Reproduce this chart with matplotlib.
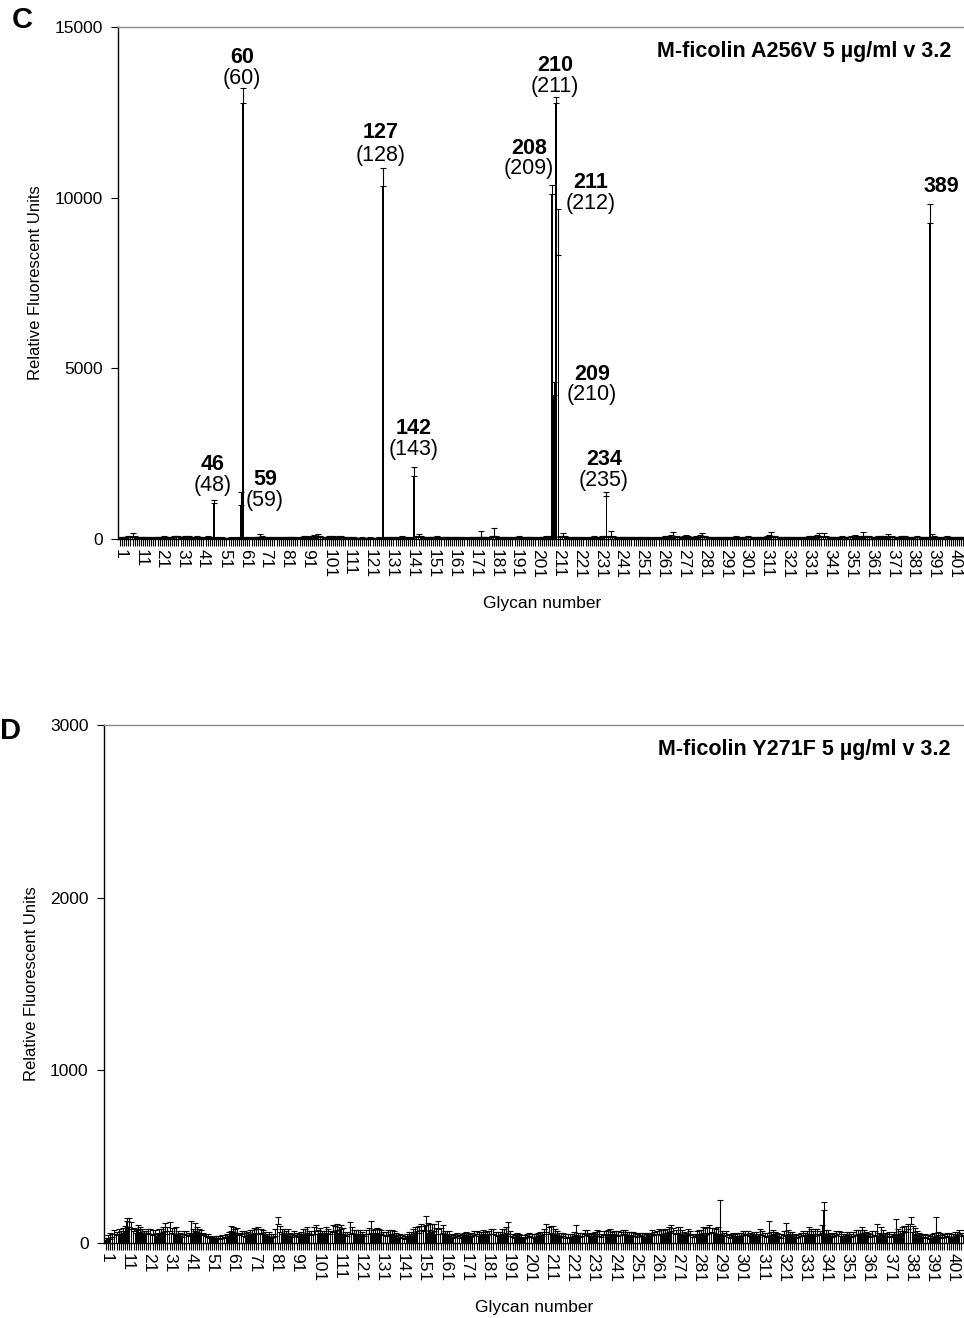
import numpy as np
import matplotlib
matplotlib.use("Agg")
import matplotlib.pyplot as plt

plt.rcParams['font.family'] = ['Liberation Sans', 'DejaVu Sans']

# ---------------- data ----------------
glycans = np.arange(1, 407)
tick_labels = [str(g) if (g - 1) % 10 == 0 else '' for g in glycans]

c_values = [
    40, 35, 30, 45, 50, 60, 70, 55, 40, 35,
    30, 45, 40, 35, 30, 25, 30, 40, 45, 35,
    40, 50, 45, 35, 30, 40, 55, 60, 50, 40,
    45, 60, 55, 50, 40, 35, 45, 50, 40, 35,
    35, 40, 50, 45, 40, 1050, 40, 30, 25, 30,
    25, 20, 25, 30, 25, 20, 30, 35, 1000, 12770,
    40, 35, 30, 25, 30, 35, 45, 70, 50, 40,
    35, 30, 25, 30, 35, 40, 30, 25, 30, 35,
    30, 40, 45, 35, 30, 25, 30, 40, 45, 50,
    40, 35, 45, 60, 55, 70, 50, 45, 40, 35,
    60, 55, 50, 45, 40, 55, 50, 45, 40, 35,
    30, 35, 30, 25, 20, 25, 30, 25, 20, 25,
    30, 25, 20, 25, 30, 25, 10340, 40, 35, 30,
    35, 40, 35, 30, 40, 45, 40, 35, 30, 25,
    40, 1850, 50, 70, 45, 40, 35, 40, 45, 35,
    40, 45, 50, 40, 35, 40, 45, 35, 30, 40,
    35, 30, 35, 40, 35, 30, 25, 30, 40, 35,
    30, 35, 40, 60, 45, 35, 30, 40, 50, 90,
    60, 45, 40, 35, 30, 35, 40, 35, 30, 35,
    40, 45, 40, 35, 30, 40, 45, 40, 35, 30,
    40, 35, 45, 40, 50, 45, 60, 10100, 4220, 12765,
    8320, 60, 80, 50, 40, 35, 40, 35, 30, 35,
    30, 35, 30, 25, 30, 35, 40, 45, 40, 35,
    40, 50, 55, 1250, 60, 90, 50, 45, 40, 35,
    40, 45, 40, 35, 40, 45, 40, 35, 30, 35,
    30, 35, 40, 35, 30, 25, 30, 35, 40, 35,
    40, 45, 50, 55, 60, 70, 55, 50, 45, 40,
    60, 70, 50, 45, 40, 45, 50, 45, 60, 80,
    50, 45, 40, 35, 30, 35, 40, 35, 30, 35,
    40, 45, 40, 35, 40, 50, 45, 40, 35, 40,
    45, 50, 45, 40, 35, 40, 45, 40, 35, 40,
    45, 60, 80, 55, 50, 45, 40, 35, 40, 45,
    40, 35, 30, 35, 40, 35, 30, 35, 40, 45,
    50, 55, 50, 45, 60, 75, 55, 70, 50, 45,
    40, 45, 40, 35, 40, 45, 50, 45, 40, 45,
    50, 55, 60, 50, 45, 55, 80, 60, 55, 50,
    45, 40, 45, 50, 55, 60, 50, 45, 70, 55,
    50, 45, 40, 45, 50, 55, 50, 45, 40, 35,
    40, 45, 50, 45, 40, 35, 40, 45, 9270, 60,
    50, 45, 40, 35, 40, 45, 50, 45, 40, 35,
    40, 45, 40, 35, 40, 45,
]
c_errors = [
    20, 15, 15, 20, 25, 40, 95, 30, 20, 15,
    15, 20, 25, 20, 15, 10, 15, 20, 25, 20,
    20, 30, 25, 15, 15, 20, 30, 40, 25, 20,
    25, 35, 30, 25, 20, 15, 20, 30, 20, 15,
    15, 20, 30, 25, 20, 90, 20, 15, 10, 15,
    10, 10, 10, 15, 10, 10, 15, 20, 380, 440,
    20, 15, 15, 10, 15, 20, 25, 75, 30, 20,
    15, 15, 10, 15, 20, 20, 15, 10, 15, 20,
    15, 20, 25, 15, 15, 10, 15, 20, 30, 40,
    25, 20, 30, 45, 30, 75, 30, 25, 20, 15,
    40, 35, 30, 25, 20, 40, 35, 25, 20, 15,
    15, 15, 15, 10, 10, 10, 15, 10, 10, 10,
    15, 10, 10, 10, 15, 10, 530, 20, 15, 15,
    20, 25, 20, 15, 20, 30, 25, 20, 15, 15,
    25, 270, 30, 75, 30, 20, 20, 25, 25, 20,
    20, 25, 30, 20, 20, 25, 25, 20, 15, 20,
    20, 15, 20, 25, 20, 15, 15, 15, 20, 20,
    15, 20, 25, 175, 25, 20, 15, 20, 30, 225,
    40, 25, 20, 15, 15, 20, 20, 20, 15, 20,
    25, 30, 25, 20, 15, 20, 25, 20, 20, 15,
    20, 20, 25, 25, 30, 25, 40, 270, 390, 175,
    1340, 40, 85, 30, 25, 20, 20, 20, 15, 20,
    15, 20, 15, 10, 15, 20, 25, 30, 25, 20,
    25, 30, 40, 130, 40, 145, 30, 25, 20, 20,
    20, 25, 20, 20, 25, 25, 20, 20, 15, 20,
    15, 20, 20, 20, 15, 10, 15, 20, 25, 20,
    25, 30, 35, 40, 45, 145, 35, 30, 25, 20,
    40, 60, 30, 25, 20, 25, 30, 25, 50, 90,
    30, 25, 20, 20, 15, 20, 20, 20, 15, 20,
    20, 25, 20, 20, 25, 30, 25, 20, 20, 25,
    25, 30, 25, 20, 20, 25, 25, 20, 20, 20,
    30, 50, 115, 35, 30, 25, 20, 20, 20, 25,
    20, 20, 15, 20, 20, 20, 15, 20, 20, 25,
    30, 40, 30, 25, 45, 90, 35, 95, 30, 25,
    20, 25, 20, 20, 25, 25, 30, 25, 20, 25,
    30, 35, 45, 30, 25, 40, 115, 40, 35, 30,
    25, 20, 25, 30, 35, 40, 30, 25, 75, 35,
    30, 25, 20, 25, 30, 35, 30, 25, 20, 20,
    20, 25, 30, 25, 20, 20, 20, 25, 550, 85,
    30, 25, 20, 20, 20, 25, 30, 25, 20, 20,
    20, 25, 20, 20, 20, 25,
]

d_values = [
    20, 30, 25, 35, 50, 45, 55, 50, 60, 70,
    125, 95, 80, 70, 60, 75, 65, 60, 55, 50,
    60, 55, 45, 50, 40, 55, 60, 65, 70, 55,
    70, 60, 55, 50, 45, 40, 35, 50, 45, 40,
    55, 60, 70, 65, 60, 55, 45, 40, 35, 30,
    25, 20, 25, 30, 25, 30, 35, 30, 40, 70,
    65, 60, 55, 45, 50, 40, 35, 45, 50, 55,
    60, 50, 55, 60, 50, 45, 40, 35, 30, 35,
    40, 110, 65, 55, 60, 45, 50, 40, 35, 45,
    40, 35, 45, 50, 55, 60, 50, 45, 55, 70,
    55, 60, 50, 45, 60, 55, 50, 65, 70, 75,
    60, 80, 55, 45, 40, 55, 60, 50, 45, 55,
    50, 45, 40, 50, 55, 60, 55, 50, 60, 55,
    50, 45, 40, 45, 50, 55, 45, 40, 30, 35,
    30, 25, 35, 40, 45, 55, 60, 70, 60, 75,
    70, 105, 60, 75, 65, 70, 55, 80, 50, 60,
    50, 45, 40, 35, 30, 35, 40, 30, 35, 40,
    45, 40, 35, 40, 45, 50, 40, 45, 50, 45,
    45, 50, 55, 50, 45, 40, 45, 50, 55, 60,
    50, 40, 35, 30, 40, 35, 30, 25, 30, 35,
    40, 35, 30, 35, 40, 45, 40, 50, 65, 55,
    60, 55, 50, 45, 40, 35, 40, 30, 35, 30,
    35, 40, 45, 40, 35, 40, 50, 45, 40, 35,
    40, 45, 50, 40, 35, 45, 50, 45, 55, 45,
    50, 45, 40, 45, 50, 55, 45, 40, 45, 40,
    40, 35, 45, 40, 35, 30, 45, 40, 50, 45,
    50, 55, 45, 50, 60, 55, 65, 70, 60, 55,
    60, 55, 50, 45, 40, 50, 45, 35, 40, 45,
    55, 50, 60, 45, 55, 60, 65, 60, 50, 55,
    55, 45, 40, 45, 35, 30, 40, 35, 40, 35,
    40, 45, 50, 45, 40, 35, 45, 40, 35, 50,
    45, 40, 35, 40, 45, 50, 45, 40, 35, 30,
    45, 40, 50, 45, 40, 35, 30, 35, 40, 45,
    40, 45, 55, 50, 45, 40, 50, 45, 60, 190,
    50, 45, 40, 35, 40, 45, 50, 40, 35, 40,
    45, 40, 35, 40, 45, 55, 50, 60, 50, 45,
    40, 35, 40, 45, 40, 35, 50, 45, 40, 35,
    40, 35, 45, 55, 50, 45, 60, 70, 65, 80,
    110, 65, 55, 45, 40, 35, 30, 35, 30, 25,
    30, 35, 40, 45, 35, 30, 35, 40, 35, 30,
    35, 40, 45, 50, 40, 45,
]
d_errors = [
    10, 15, 35, 20, 25, 20, 25, 20, 25, 30,
    20, 50, 40, 15, 20, 30, 25, 20, 15, 20,
    20, 25, 30, 25, 20, 25, 20, 30, 45, 35,
    50, 25, 30, 45, 25, 20, 15, 20, 25, 20,
    75, 20, 45, 25, 20, 20, 15, 10, 15, 10,
    10, 10, 15, 10, 15, 15, 10, 20, 25, 30,
    25, 20, 30, 15, 20, 30, 25, 20, 25, 20,
    25, 30, 40, 20, 25, 20, 15, 30, 25, 20,
    40, 40, 35, 25, 20, 25, 30, 20, 20, 25,
    20, 15, 20, 30, 25, 30, 20, 25, 40, 35,
    20, 25, 20, 25, 30, 25, 20, 40, 30, 35,
    35, 25, 30, 20, 25, 65, 30, 25, 30, 20,
    25, 20, 15, 25, 30, 65, 20, 30, 25, 25,
    25, 20, 25, 30, 25, 20, 25, 20, 15, 20,
    15, 15, 20, 25, 20, 25, 30, 20, 40, 35,
    30, 50, 55, 35, 45, 40, 30, 50, 35, 45,
    20, 25, 30, 20, 15, 15, 20, 15, 20, 20,
    20, 20, 15, 20, 25, 20, 25, 20, 25, 20,
    25, 20, 25, 30, 20, 25, 20, 30, 25, 30,
    70, 30, 20, 15, 20, 15, 15, 10, 15, 20,
    20, 15, 20, 15, 20, 20, 25, 30, 45, 40,
    40, 45, 30, 25, 20, 25, 20, 20, 15, 20,
    20, 25, 60, 20, 25, 20, 25, 30, 20, 20,
    20, 20, 25, 30, 20, 25, 20, 30, 25, 20,
    20, 25, 30, 20, 25, 20, 20, 25, 20, 25,
    20, 20, 15, 20, 25, 20, 15, 20, 25, 20,
    20, 25, 30, 25, 20, 25, 30, 35, 25, 20,
    35, 40, 25, 20, 20, 30, 25, 20, 15, 25,
    20, 25, 30, 40, 35, 45, 20, 25, 30, 40,
    195, 25, 20, 25, 20, 15, 20, 15, 20, 25,
    20, 25, 20, 25, 20, 15, 20, 25, 20, 30,
    25, 20, 25, 85, 20, 25, 20, 20, 15, 20,
    25, 75, 25, 20, 25, 20, 15, 20, 20, 25,
    20, 25, 35, 30, 25, 40, 30, 25, 45, 45,
    25, 30, 20, 15, 20, 25, 20, 25, 20, 15,
    20, 25, 20, 25, 30, 20, 25, 35, 25, 20,
    20, 15, 30, 25, 70, 25, 45, 30, 20, 15,
    25, 20, 20, 85, 30, 25, 35, 30, 35, 30,
    40, 35, 30, 25, 20, 20, 15, 20, 15, 15,
    20, 25, 110, 20, 25, 15, 20, 20, 25, 20,
    20, 25, 20, 25, 20, 30,
]

c_annotations = [  # (bold label, paren label, x, y_bold, y_paren)
    ('46', '(48)', 45.3, 2170, 1555),
    ('60', '(60)', 59.5, 14120, 13505),
    ('59', '(59)', 70.5, 1730, 1115),
    ('127', '(128)', 126.0, 11900, 11250),
    ('142', '(143)', 141.8, 3250, 2635),
    ('208', '(209)', 196.9, 11455, 10840),
    ('210', '(211)', 209.4, 13860, 13245),
    ('211', '(212)', 226.6, 10430, 9815),
    ('209', '(210)', 227.1, 4805, 4220),
    ('234', '(235)', 232.9, 2315, 1700),
    ('389', None, 394.3, 10315, None),
]

W, H = 964, 1318
fig = plt.figure(figsize=(W / 100, H / 100), dpi=100)


def make_panel(rect_px, values, errors, ymax, yticks, title, letter, letter_xy):
    l, t, w, h = rect_px
    ax = fig.add_axes([l / W, 1 - (t + h) / H, w / W, h / H])
    ax.bar(glycans, values, width=0.8, color='black', linewidth=0)
    ax.errorbar(glycans, values, yerr=[np.zeros(len(errors)), errors], fmt='none',
                ecolor='black', elinewidth=0.8, capsize=2.2, capthick=0.8)
    ax.set_xlim(0.05, 406.5)
    ax.set_ylim(0, ymax)
    ax.set_yticks(yticks)
    ax.set_yticklabels([str(v) for v in yticks], fontsize=12.5)
    ax.set_xticks(glycans)
    ax.set_xticklabels(tick_labels, rotation=-90, fontsize=12.5, va='top', ha='center')
    ax.tick_params(axis='x', direction='out', length=5, width=0.8, pad=2)
    ax.tick_params(axis='y', direction='out', length=5, width=0.8, pad=6)
    ax.spines['right'].set_visible(False)
    ax.spines['top'].set_color('#888888')
    ax.spines['top'].set_linewidth(1.0)
    ax.spines['left'].set_linewidth(1.0)
    ax.spines['bottom'].set_linewidth(1.0)
    ax.set_ylabel('Relative Fluorescent Units', fontsize=12, labelpad=8)
    ax.set_xlabel('Glycan number', fontsize=12.5, labelpad=13)
    ax.text((951 - l) / w, 1 - 25 / h, title, transform=ax.transAxes,
            ha='right', va='center', fontsize=15.5, fontweight='bold')
    fig.text(letter_xy[0] / W, 1 - letter_xy[1] / H, letter, ha='center', va='center',
             fontsize=21, fontweight='bold')
    return ax


axC = make_panel((118, 27, 848.5, 512), c_values, c_errors, 15000,
                 [0, 5000, 10000, 15000], 'M-ficolin A256V 5 µg/ml v 3.2', 'C', (22, 20))
axD = make_panel((104, 725, 860.6, 518), d_values, d_errors, 3000,
                 [0, 1000, 2000, 3000], 'M-ficolin Y271F 5 µg/ml v 3.2', 'D', (10, 731))

for bold, paren, x, yb, yp in c_annotations:
    axC.text(x, yb, bold, ha='center', va='center', fontsize=15.5, fontweight='bold')
    if paren:
        axC.text(x, yp, paren, ha='center', va='center', fontsize=15.5)

fig.savefig('out.png', dpi=100)
